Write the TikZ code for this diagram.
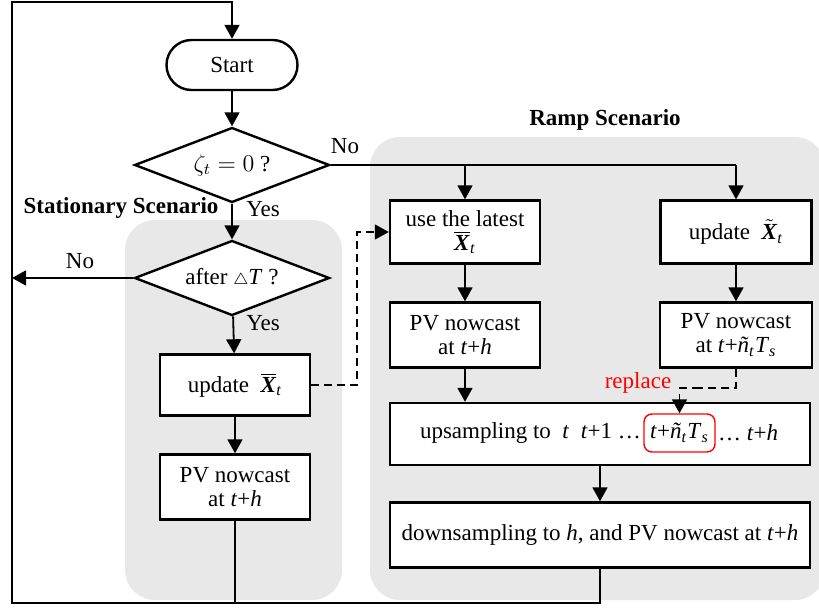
\documentclass[tikz,border=0pt]{standalone}
\usepackage{fontspec}
\setmainfont{Liberation Serif}
\usetikzlibrary{shapes.geometric,arrows.meta,calc}
\definecolor{bggray}{RGB}{232,232,232}
\newcommand{\Xbar}{$\overline{\mbox{\textbf{\textit{X}}}}$\textsubscript{\textit{t}}}
\newcommand{\Xtil}{$\tilde{\mbox{\textbf{\textit{X}}}}$\textsubscript{\textit{t}}}
\newcommand{\nT}{\textit{t}+\textit{\~n}\textsubscript{\textit{t}}\textit{T}\textsubscript{\textit{s}}}
\begin{document}
\begin{tikzpicture}[x=0.5pt,y=-0.5pt,
  font=\fontsize{11.5}{13}\selectfont,
  line/.style={line width=0.9pt},
  arr/.style={line width=0.9pt,-{Triangle[width=7.5pt,length=7pt]}},
  darr/.style={line width=0.9pt,dashed,dash pattern=on 4pt off 2.5pt,-{Triangle[width=7.5pt,length=7pt]}},
  dline/.style={line width=0.9pt,dashed,dash pattern=on 4pt off 2.5pt},
  box/.style={draw,line width=1.2pt,fill=white,inner sep=2pt,align=center},
  dia/.style={draw,line width=1.2pt,fill=white,shape=diamond,shape aspect=2.6,inner sep=0pt,minimum width=97.5pt,minimum height=37.5pt},
  bg/.style={fill=bggray,rounded corners=15pt},
  lbl/.style={inner sep=1pt}]
\useasboundingbox (0,0) rectangle (819,610);
% backgrounds
\fill[bg] (125,220) rectangle (342,600);
\fill[bg] (370,137) rectangle (825,600);
% nodes
\node[box,rounded corners=12.5pt,minimum width=65.5pt,minimum height=25pt] (start) at (232,65) {Start};
\node[dia] (d1) at (232,165) {$\zeta_t = 0$ ?};
\node[dia] (d2) at (232,278) {after $\scriptstyle\triangle$\textit{T} ?};
\node[box,minimum width=75pt,minimum height=30.5pt] (upd) at (235,385) {update~~\Xbar};
\node[box,minimum width=75pt,minimum height=32.5pt] (pv1) at (235,487) {PV nowcast\\[-1pt] at \textit{t}+\textit{h}};
\node[box,minimum width=75pt,minimum height=31.5pt] (latest) at (465,232) {use the latest\\[-1pt] \Xbar};
\node[box,minimum width=75.5pt,minimum height=31.5pt] (upX) at (736,232) {update~~\Xtil};
\node[box,minimum width=75pt,minimum height=32.5pt] (pv2) at (465,335) {PV nowcast\\[-1pt] at \textit{t}+\textit{h}};
\node[box,minimum width=76pt,minimum height=32.5pt] (pv3) at (736,335) {PV nowcast\\[-1pt] at \nT};
\node[box,minimum width=210pt,minimum height=31pt] (ups) at (600,434) {};
\node[draw=red,line width=0.7pt,rounded corners=4pt,minimum width=35.5pt,minimum height=19pt,inner sep=1pt] (red) at (679.5,433) {\nT};
\node[lbl,anchor=east] (upst) at (red.west) {upsampling to~~\textit{t}~~\textit{t}+1 \dots};
\node[lbl,anchor=west] (upsr) at (red.east) {\dots~\textit{t}+\textit{h}};
\node[box,minimum width=210pt,minimum height=32.5pt] (down) at (600,535) {downsampling to \textit{h}, and PV nowcast at \textit{t}+\textit{h}};
% labels
\node[lbl,font=\fontsize{11.5}{13}\selectfont\bfseries] (stl) at (121,208) {Stationary Scenario};
\node[lbl,font=\fontsize{11.5}{13}\selectfont\bfseries] (rpl) at (605,120) {Ramp Scenario};
\node[lbl] (no1) at (345,146) {No};
\node[lbl] (yes1) at (263,209) {Yes};
\node[lbl] (no2) at (80,261) {No};
\node[lbl] (yes2) at (263,323) {Yes};
\node[lbl,text=red] (rep) at (638,383) {replace};
% coordinates
\coordinate (bl) at (12,603);
\coordinate (tm) at (232,2);
\coordinate (dj) at (357,300);
\coordinate (rj) at (700,388);
% connectors
\draw[arr] (start) -- (d1);
\draw[arr] (d1) -- (d2);
\draw[arr] (d2) -- (upd);
\draw[arr] (upd) -- (pv1);
\draw[arr] (d2.west) -- (d2.west -| bl);
\draw[line] (d1.east) -- (d1.east -| upX.north);
\draw[arr] (d1.east -| latest.north) -- (latest.north);
\draw[arr] (d1.east -| upX.north) -- (upX.north);
\draw[arr] (latest) -- (pv2);
\draw[arr] (upX) -- (pv3);
\draw[arr] (pv2.south) -- (pv2.south |- ups.north);
\draw[arr] (ups.south) -- (down.north);
\draw[darr] (upd.east) -| (dj) |- (latest.west);
\draw[dline] (pv3.south) |- (rj);
\draw[darr] (rj) -| (red.north);
\draw[line] (pv1.south) -- (pv1.south |- bl);
\draw[arr] (down.south) |- (bl) |- (tm) -- (start.north);
\end{tikzpicture}
\end{document}
